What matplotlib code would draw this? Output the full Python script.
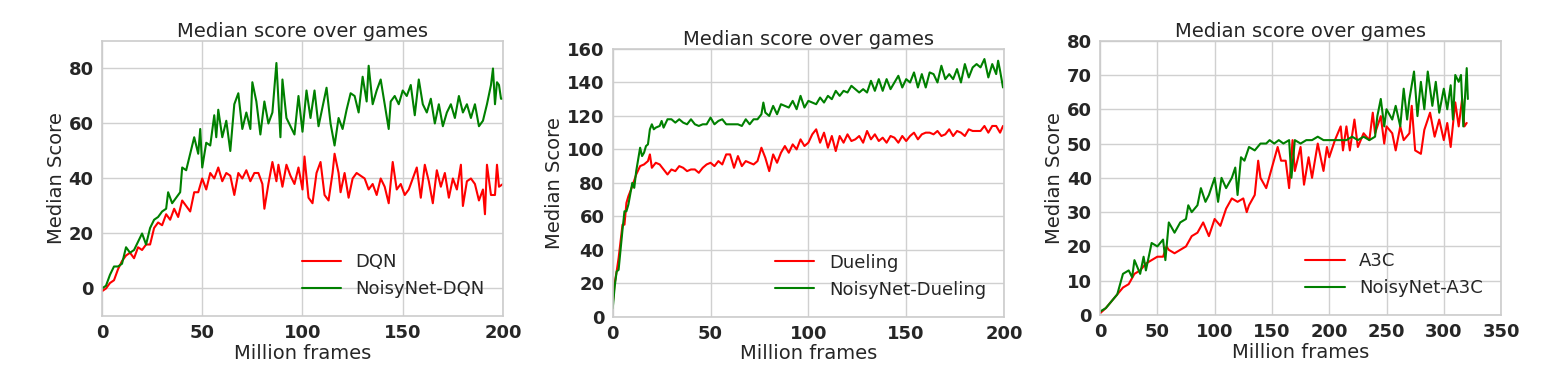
import matplotlib
matplotlib.use('Agg')
import matplotlib.pyplot as plt
import seaborn as sns

# ---- panel 1: DQN vs NoisyNet-DQN ----
dqn_x = [0, 2, 4, 6, 8, 10, 12, 14, 16, 18, 20, 22, 24, 26, 28, 30, 32, 34, 36, 38,
         40, 42, 44, 46, 48, 50, 52, 54, 56, 58, 60, 62, 64, 66, 68, 70, 72, 74, 76, 78,
         80, 81, 83, 85, 87, 88, 90, 92, 94, 96, 98, 100, 101, 103, 105, 107, 109, 111, 113, 115,
         116, 118, 119, 121, 123, 125, 127, 129, 131, 133, 135, 137, 139, 141, 143, 145, 147, 149, 151, 153,
         155, 157, 159, 161, 163, 165, 167, 169, 171, 173, 175, 177, 179, 180, 182, 184, 186, 188, 190, 191,
         192, 194, 196, 197, 198, 200]
dqn_y = [-1, 0, 2, 3, 7, 10, 12, 13, 11, 15, 14, 16, 16, 22, 24, 23, 27, 25, 29, 26,
         32, 30, 28, 35, 35, 40, 36, 42, 40, 44, 39, 42, 41, 34, 42, 40, 43, 39, 42, 42,
         38, 29, 38, 46, 39, 45, 37, 45, 41, 38, 44, 36, 48, 33, 31, 42, 46, 34, 32, 42,
         49, 42, 35, 42, 33, 40, 42, 41, 40, 36, 38, 34, 40, 37, 31, 46, 36, 38, 34, 36,
         40, 44, 33, 45, 39, 31, 43, 37, 42, 33, 40, 36, 45, 30, 39, 40, 38, 32, 36, 27,
         45, 34, 34, 45, 37, 38]
ndqn_x = [0, 2, 4, 6, 8, 10, 12, 14, 16, 18, 20, 22, 24, 26, 28, 30, 32, 33, 35, 37,
          39, 40, 42, 44, 46, 48, 49, 50, 52, 54, 56, 57, 58, 60, 62, 64, 66, 68, 70, 72,
          74, 75, 77, 79, 81, 83, 85, 87, 89, 90, 92, 94, 96, 98, 100, 102, 104, 106, 108, 110,
          112, 114, 116, 118, 120, 122, 124, 126, 128, 130, 132, 133, 135, 137, 139, 141, 143, 144, 146, 148,
          150, 152, 154, 156, 158, 160, 162, 164, 166, 168, 170, 172, 174, 176, 178, 180, 182, 184, 186, 188,
          190, 192, 194, 195, 196, 197, 198, 199, 200]
ndqn_y = [0, 1, 5, 8, 8, 9, 15, 13, 14, 17, 20, 16, 22, 25, 26, 28, 29, 35, 31, 33,
          35, 44, 43, 49, 55, 49, 58, 44, 53, 52, 63, 55, 65, 55, 61, 50, 67, 71, 58, 64,
          58, 75, 68, 56, 68, 60, 64, 82, 55, 76, 62, 59, 56, 70, 57, 72, 62, 72, 59, 66,
          73, 60, 52, 62, 58, 65, 71, 70, 64, 77, 68, 81, 67, 72, 76, 67, 58, 68, 70, 67,
          72, 70, 74, 63, 76, 67, 64, 69, 60, 67, 59, 64, 67, 62, 70, 64, 67, 62, 67, 59,
          61, 67, 74, 80, 67, 75, 74, 69, 69]

# ---- panel 2: Dueling vs NoisyNet-Dueling ----
duel_x = [0, 1, 2, 3, 4, 5, 6, 7, 8, 10, 12, 14, 16, 18, 19, 20, 22, 24, 26, 28,
          30, 32, 34, 36, 38, 40, 42, 44, 46, 48, 50, 52, 54, 56, 58, 60, 62, 64, 66, 68,
          70, 72, 74, 76, 78, 80, 82, 84, 86, 88, 90, 92, 94, 96, 98, 100, 102, 104, 106, 108,
          110, 112, 114, 116, 118, 120, 122, 124, 126, 128, 130, 132, 134, 136, 138, 140, 142, 144, 146, 148,
          150, 152, 154, 156, 158, 160, 162, 164, 166, 168, 170, 172, 174, 176, 178, 180, 182, 184, 186, 188,
          190, 192, 194, 196, 198, 199.5]
duel_y = [8, 20, 27, 35, 45, 55, 55, 68, 72, 78, 85, 90, 91, 93, 97, 89, 92, 91, 88, 85,
          88, 87, 90, 89, 87, 88, 88, 86, 89, 91, 92, 90, 93, 91, 97, 97, 89, 96, 90, 93,
          92, 91, 93, 101, 95, 87, 97, 92, 98, 102, 98, 103, 100, 106, 102, 104, 109, 112, 104, 110,
          101, 108, 99, 108, 104, 109, 105, 106, 108, 104, 111, 106, 109, 105, 107, 104, 108, 107, 104, 108,
          105, 108, 110, 106, 109, 110, 110, 109, 111, 108, 109, 112, 108, 111, 110, 108, 112, 111, 111, 111,
          114, 110, 114, 114, 110, 114]
nduel_x = [0, 1, 2, 3, 4, 5, 6, 7, 8, 10, 11, 12, 14, 15, 16, 17, 18, 19, 20, 21,
           22, 24, 25, 26, 28, 30, 32, 34, 36, 38, 40, 42, 44, 46, 48, 50, 52, 54, 56, 58,
           60, 62, 64, 66, 68, 70, 72, 74, 76, 77, 78, 80, 82, 84, 86, 88, 90, 92, 94, 96,
           98, 100, 102, 104, 106, 108, 110, 112, 114, 116, 118, 120, 122, 124, 126, 128, 130, 132, 134, 136,
           138, 140, 142, 144, 146, 148, 150, 152, 154, 156, 158, 160, 162, 164, 166, 168, 170, 172, 174, 176,
           178, 180, 182, 184, 186, 188, 190, 192, 194, 196, 197, 198, 199.5]
nduel_y = [5, 18, 27, 28, 40, 52, 63, 63, 67, 80, 77, 87, 101, 96, 98, 102, 103, 112, 115, 112,
           113, 114, 117, 113, 118, 118, 116, 118, 116, 115, 118, 115, 114, 115, 115, 119, 115, 117, 118, 115,
           115, 115, 115, 114, 118, 115, 118, 118, 121, 128, 122, 120, 126, 121, 127, 126, 125, 129, 124, 132,
           125, 129, 128, 127, 131, 128, 132, 130, 135, 132, 135, 134, 138, 136, 134, 136, 134, 141, 135, 142,
           135, 142, 136, 140, 144, 137, 142, 140, 146, 137, 145, 137, 146, 145, 140, 150, 142, 145, 142, 148,
           140, 151, 143, 149, 151, 149, 154, 143, 151, 145, 153, 147, 137]

# ---- panel 3: A3C vs NoisyNet-A3C ----
a3c_x = [0, 5, 10, 15, 20, 25, 30, 35, 40, 45, 50, 55, 58, 60, 65, 70, 75, 80, 85, 90,
         95, 100, 105, 110, 115, 120, 125, 128, 130, 135, 138, 140, 145, 150, 155, 158, 162, 165, 168, 170,
         175, 178, 182, 185, 190, 195, 198, 200, 205, 210, 212, 215, 218, 222, 225, 230, 235, 238, 240, 245,
         248, 250, 255, 258, 262, 265, 270, 272, 275, 280, 283, 288, 292, 296, 300, 303, 306, 310, 313, 316,
         318, 320]
a3c_y = [0.5, 2, 4, 6, 8, 9, 12, 13, 15, 16, 17, 17, 20, 19, 18, 19, 20, 23, 24, 27,
         23, 28, 26, 31, 34, 33, 34, 30, 32, 35, 45, 40, 37, 43, 49, 45, 45, 37, 51, 42,
         49, 38, 46, 40, 50, 42, 49, 46, 51, 55, 48, 55, 48, 57, 49, 53, 51, 59, 53, 58,
         50, 55, 53, 48, 55, 51, 53, 61, 48, 47, 54, 59, 52, 57, 51, 56, 49, 62, 55, 63,
         55, 56]
na3c_x = [0, 5, 10, 15, 20, 25, 28, 30, 35, 38, 40, 45, 50, 55, 57, 60, 65, 70, 75, 77,
          80, 85, 88, 92, 95, 100, 103, 106, 110, 115, 118, 120, 123, 126, 130, 135, 140, 145, 148, 152,
          156, 160, 165, 167, 170, 175, 180, 185, 190, 195, 200, 205, 210, 215, 220, 225, 230, 235, 240, 242,
          245, 248, 250, 255, 258, 262, 265, 268, 270, 274, 277, 280, 283, 286, 290, 293, 296, 300, 303, 306,
          308, 310, 313, 315, 317, 320, 321]
na3c_y = [1, 2, 4, 6, 12, 13, 11, 16, 12, 17, 13, 21, 20, 22, 16, 27, 24, 27, 28, 32,
          30, 32, 37, 33, 35, 40, 33, 40, 37, 40, 43, 35, 46, 45, 49, 48, 50, 50, 51, 50,
          51, 50, 51, 40, 51, 50, 51, 51, 52, 51, 51, 51, 51, 51, 52, 51, 52, 51, 52, 58,
          63, 55, 60, 57, 61, 55, 66, 57, 63, 71, 58, 68, 60, 71, 61, 68, 59, 66, 60, 67,
          57, 70, 68, 70, 55, 72, 63]

panels = [
    dict(pos=[0.0657, 0.1728, 0.2584, 0.7199], base=(dqn_x, dqn_y, 'DQN'),
         noisy=(ndqn_x, ndqn_y, 'NoisyNet-DQN'), xlim=(0, 200), ylim=(-10, 90),
         xticks=[0, 50, 100, 150, 200], yticks=[0, 20, 40, 60, 80]),
    dict(pos=[0.3948, 0.1710, 0.2521, 0.7007], base=(duel_x, duel_y, 'Dueling'),
         noisy=(nduel_x, nduel_y, 'NoisyNet-Dueling'), xlim=(0, 200), ylim=(0, 160),
         xticks=[0, 50, 100, 150, 200], yticks=list(range(0, 161, 20))),
    dict(pos=[0.7088, 0.1754, 0.2584, 0.7181], base=(a3c_x, a3c_y, 'A3C'),
         noisy=(na3c_x, na3c_y, 'NoisyNet-A3C'), xlim=(0, 350), ylim=(0, 80),
         xticks=list(range(0, 351, 50)), yticks=list(range(0, 81, 10))),
]

sns.set_style('whitegrid')
plt.rcParams['font.family'] = ['DejaVu Sans']
plt.rcParams['text.color'] = '#262626'
plt.rcParams['axes.labelcolor'] = '#262626'

fig = plt.figure(figsize=(15.52, 3.82), dpi=100)

for p in panels:
    ax = fig.add_axes(p['pos'])
    bx, by, blabel = p['base']
    nx, ny, nlabel = p['noisy']
    ax.plot(bx, by, color='red', linewidth=1.5, label=blabel)
    ax.plot(nx, ny, color='green', linewidth=1.5, label=nlabel)
    ax.set_xlim(*p['xlim'])
    ax.set_ylim(*p['ylim'])
    ax.set_xticks(p['xticks'])
    ax.set_yticks(p['yticks'])
    ax.tick_params(axis='both', length=0, labelsize=13, colors='#262626', pad=6)
    for lbl in ax.get_xticklabels() + ax.get_yticklabels():
        lbl.set_fontweight('bold')
    ax.grid(True, color='#d0d0d0', linewidth=1)
    for s in ax.spines.values():
        s.set_color('#cccccc')
        s.set_linewidth(1.2)
    ax.set_title('Median score over games', fontsize=14, pad=3)
    ax.set_xlabel('Million frames', fontsize=14, labelpad=1)
    ax.set_ylabel('Median Score', fontsize=14, labelpad=2)
    ax.legend(loc='lower right', frameon=False, fontsize=13, handlelength=2.2,
              borderaxespad=0.6)

fig.savefig('out.png', dpi=100)
